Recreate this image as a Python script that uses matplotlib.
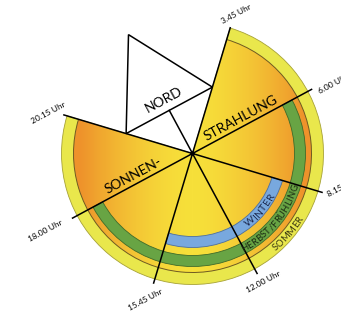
import numpy as np
import matplotlib
matplotlib.use("Agg")
import matplotlib.pyplot as plt
from matplotlib.patches import Wedge, Arc, Polygon, Circle
from matplotlib.font_manager import FontProperties
from matplotlib.textpath import text_to_path

# ---------------- data ----------------
time_labels = ['3.45 Uhr', '6.00 Uhr', '8.15 Uhr', '12.00 Uhr', '15.45 Uhr', '18.00 Uhr', '20.15 Uhr']
azimuths = [45, 90, 135, 180, 225, 270, 315]          # sun azimuth (deg from north, clockwise)
season_names = ['WINTER', 'HERBST/FRÜHLING', 'SOMMER']
season_start_az = [135, 90, 45]                        # 8.15 / 6.00 / 3.45 Uhr
season_end_az = [225, 270, 315]                        # 15.45 / 18.00 / 20.15 Uhr
title_words = ['SONNEN-', 'STRAHLUNG']
north_label = 'NORD'

# ---------------- layout / style ----------------
W, H = 341, 316
NORTH = 118.3                        # chart angle of north (deg, ccw from east)
cx, cy = 192.5, H - 153.5
R_OUT, R_LINE = 131, 119
ring_radii = {'WINTER': (83, 94), 'HERBST/FRÜHLING': (102, 113)}
ring_colors = {'WINTER': '#78A8DE', 'HERBST/FRÜHLING': '#68A444'}
ring_edges = {'WINTER': '#4d6f9e', 'HERBST/FRÜHLING': '#3f6b2a'}
text_colors = {'WINTER': '#1c2a50', 'HERBST/FRÜHLING': '#1b2a12', 'SOMMER': '#3b3812'}
line_end_r = [132, 136, 136, 137, 136, 137, 135]
label_r = [146, 157, 153, 147, 154, 166, 150]
label_dth = [-0.8, -2.2, 4.2, 0.6, -1.0, -0.6, 0.8]
FONT = ['Lato', 'DejaVu Sans']
YEL = np.array([247, 224, 58]) / 255
ORA = np.array([238, 146, 43]) / 255
LEMON = '#E9E74C'


def chart_angle(az):
    return NORTH - az


def pol(r, ang):
    a = np.deg2rad(ang)
    return cx + r * np.cos(a), cy + r * np.sin(a)


fig = plt.figure(figsize=(W / 100, H / 100), dpi=100)
ax = fig.add_axes([0, 0, 1, 1])
ax.set_xlim(0, W)
ax.set_ylim(0, H)
ax.axis('off')

s_idx = season_names.index('SOMMER')
th1 = chart_angle(season_end_az[s_idx])
th2 = chart_angle(season_start_az[s_idx])

# outer summer band
ax.add_patch(Wedge((cx, cy), R_OUT, th1, th2, facecolor=LEMON, edgecolor='#a7a236', lw=0.6, zorder=1))

# gradient fill of the inner disc
clipw = Wedge((cx, cy), R_LINE, th1, th2, facecolor='none', edgecolor='none', zorder=2)
ax.add_patch(clipw)
xs = np.arange(W) + 0.5
ys = np.arange(H) + 0.5
X, Y = np.meshgrid(xs, ys)
t = np.clip(np.abs(X - cx) / 112.0, 0, 1) ** 1.6
img = YEL[None, None, :] * (1 - t[..., None]) + ORA[None, None, :] * t[..., None]
im = ax.imshow(img, extent=(0, W, 0, H), origin='lower', zorder=2, interpolation='bilinear')
im.set_clip_path(clipw)
ax.set_xlim(0, W)
ax.set_ylim(0, H)

# season rings
for name, a0, a1 in zip(season_names, season_start_az, season_end_az):
    if name in ring_radii:
        r0, r1 = ring_radii[name]
        ax.add_patch(Wedge((cx, cy), r1, chart_angle(a1), chart_angle(a0), width=r1 - r0,
                           facecolor=ring_colors[name], edgecolor=ring_edges[name], lw=0.6, zorder=3))

# dividing circle line
ax.add_patch(Arc((cx, cy), 2 * R_LINE, 2 * R_LINE, theta1=th1, theta2=th2,
                 color='#6e5a22', lw=0.7, zorder=4))

# hour lines
for az, rr in zip(azimuths, line_end_r):
    x1, y1 = pol(rr, chart_angle(az))
    ax.plot([cx, x1], [cy, y1], color='black', lw=1.1, zorder=6, solid_capstyle='butt')

# north arrow triangle
d, half, height = 49, 49, 86
mx, my = pol(d, NORTH)
ux, uy = np.cos(np.deg2rad(NORTH - 90)), np.sin(np.deg2rad(NORTH - 90))
right = (mx + half * ux, my + half * uy)
left = (mx - half * ux, my - half * uy)
apex = pol(d + height, NORTH)
ax.add_patch(Polygon([apex, right, left], closed=True, facecolor='white', edgecolor='black',
                     lw=1.1, zorder=5, joinstyle='miter'))
ax.plot([cx, mx], [cy, my], color='black', lw=1.1, zorder=6)
ax.add_patch(Circle((cx, cy), 1.6, color='black', zorder=7))

ROT = NORTH - 90
nx, ny = pol(d + 12, NORTH)
ax.text(nx, ny, north_label, rotation=ROT, rotation_mode='anchor', ha='center', va='center',
        fontsize=10, family=FONT, color='black', zorder=8)

# big words along the 6.00 / 18.00 line
nvx, nvy = np.cos(np.deg2rad(NORTH)), np.sin(np.deg2rad(NORTH))
for word, az, along in zip(title_words, [270, 90], [62, 59]):
    px, py = pol(along, chart_angle(az))
    ax.text(px + 8.6 * nvx, py + 8.6 * nvy, word, rotation=ROT, rotation_mode='anchor',
            ha='center', va='center', fontsize=10, family=FONT, color='black', zorder=8)

# hour labels
for lab, az, rl, dth in zip(time_labels, azimuths, label_r, label_dth):
    px, py = pol(rl, chart_angle(az) + dth)
    ax.text(px, py, lab, rotation=ROT, rotation_mode='anchor', ha='center', va='center',
            fontsize=6, family=FONT, color='black', zorder=8)


# curved season labels
def curved_text(text, r_mid, mid_deg, fs, color):
    fp = FontProperties(family=FONT, size=fs)
    k = 100 / 72
    total = text_to_path.get_text_width_height_descent(text, fp, ismath=False)[0] * k
    r_base = r_mid + fs * 0.5
    a_start = np.deg2rad(mid_deg) - (total / 2) / r_mid
    for i, ch in enumerate(text):
        pre = text_to_path.get_text_width_height_descent(text[:i + 1], fp, ismath=False)[0] * k
        w = text_to_path.get_text_width_height_descent(ch, fp, ismath=False)[0] * k
        s = pre - w / 2
        a = a_start + s / r_mid
        x = cx + r_base * np.cos(a)
        y = cy + r_base * np.sin(a)
        ax.text(x, y, ch, rotation=np.rad2deg(a) + 90, rotation_mode='anchor', ha='center',
                va='baseline', fontproperties=fp, color=color, zorder=8)


curved_text('WINTER', 88.5, -40, 7.5, text_colors['WINTER'])
curved_text('HERBST/FRÜHLING', 107.5, -40, 6.8, text_colors['HERBST/FRÜHLING'])
curved_text('SOMMER', 125, -40, 6.8, text_colors['SOMMER'])

fig.savefig('out.png', dpi=100, facecolor='white')
